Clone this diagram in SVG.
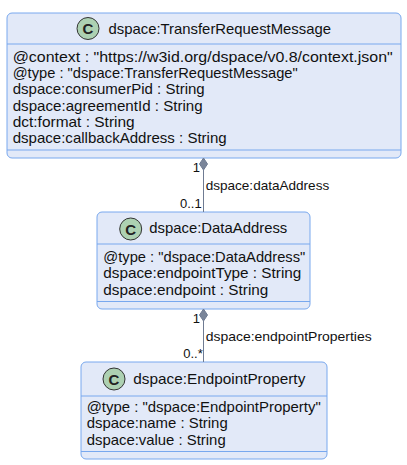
<svg xmlns="http://www.w3.org/2000/svg" width="407" height="465" viewBox="0 0 407 465">
<style>
.box{fill:#E2E9F8;stroke:#78A8EE;stroke-width:1}
.sep{stroke:#78A8EE;stroke-width:1}
.circ{fill:#ADD1B2;stroke:#333;stroke-width:1}
.cl{font-family:"Liberation Sans",Arial,sans-serif;font-size:15px;font-weight:bold;fill:#222;text-anchor:middle}
.t{font-family:"Liberation Sans",Arial,sans-serif;font-size:15px;fill:#111}
.a{font-family:"Liberation Sans",Arial,sans-serif;font-size:15px;fill:#111}
.lbl{font-family:"Liberation Sans",Arial,sans-serif;font-size:13px;fill:#111}
.ln{stroke:#6F7B92;stroke-width:1;fill:none}
.dia{fill:#7A8599;stroke:#6F7B92;stroke-width:1}
</style>
<g id="node-TransferRequestMessage">
<rect class="box" x="7" y="13" width="394" height="145" rx="5"/>
<line class="sep" x1="7" y1="44" x2="401" y2="44"/>
<line class="sep" x1="7" y1="150" x2="401" y2="150"/>
<circle class="circ" cx="88" cy="28.5" r="11"/>
<text class="cl" x="88" y="34">C</text>
<text class="t" x="108.5" y="33.5" textLength="222.5" lengthAdjust="spacingAndGlyphs">dspace:TransferRequestMessage</text>
<text class="a" x="12.7" y="62" textLength="380" lengthAdjust="spacingAndGlyphs">@context : "https://w3id.org/dspace/v0.8/context.json"</text>
<text class="a" x="12.7" y="78.2" textLength="285" lengthAdjust="spacingAndGlyphs">@type : "dspace:TransferRequestMessage"</text>
<text class="a" x="12.7" y="94.4" textLength="192" lengthAdjust="spacingAndGlyphs">dspace:consumerPid : String</text>
<text class="a" x="12.7" y="110.6" textLength="190" lengthAdjust="spacingAndGlyphs">dspace:agreementId : String</text>
<text class="a" x="12.7" y="126.8" textLength="122" lengthAdjust="spacingAndGlyphs">dct:format : String</text>
<text class="a" x="12.7" y="143" textLength="214" lengthAdjust="spacingAndGlyphs">dspace:callbackAddress : String</text>
</g>
<g id="node-DataAddress">
<rect class="box" x="97" y="212" width="213" height="97" rx="5"/>
<line class="sep" x1="97" y1="244" x2="310" y2="244"/>
<line class="sep" x1="97" y1="301.5" x2="310" y2="301.5"/>
<circle class="circ" cx="130.7" cy="229" r="11"/>
<text class="cl" x="130.7" y="234.5">C</text>
<text class="t" x="149.3" y="233" textLength="138" lengthAdjust="spacingAndGlyphs">dspace:DataAddress</text>
<text class="a" x="103.3" y="262" textLength="202" lengthAdjust="spacingAndGlyphs">@type : "dspace:DataAddress"</text>
<text class="a" x="103.3" y="278.3" textLength="198" lengthAdjust="spacingAndGlyphs">dspace:endpointType : String</text>
<text class="a" x="103.3" y="294.5" textLength="165" lengthAdjust="spacingAndGlyphs">dspace:endpoint : String</text>
</g>
<g id="node-EndpointProperty">
<rect class="box" x="81" y="362" width="246" height="97" rx="5"/>
<line class="sep" x1="81" y1="396" x2="327" y2="396"/>
<line class="sep" x1="81" y1="451.5" x2="327" y2="451.5"/>
<circle class="circ" cx="114" cy="379" r="11"/>
<text class="cl" x="114" y="384.5">C</text>
<text class="t" x="133.3" y="383.5" textLength="172" lengthAdjust="spacingAndGlyphs">dspace:EndpointProperty</text>
<text class="a" x="86.7" y="412" textLength="234" lengthAdjust="spacingAndGlyphs">@type : "dspace:EndpointProperty"</text>
<text class="a" x="86.7" y="428.3" textLength="141" lengthAdjust="spacingAndGlyphs">dspace:name : String</text>
<text class="a" x="86.7" y="444.5" textLength="139" lengthAdjust="spacingAndGlyphs">dspace:value : String</text>
</g>
<g id="connectors">
<line class="ln" x1="203.5" y1="170" x2="203.5" y2="212"/>
<polygon class="dia" points="203.5,158 207.5,164 203.5,170 199.5,164"/>
<text class="lbl" x="200" y="171.5" text-anchor="end">1</text>
<text class="lbl" x="205.7" y="190" textLength="123.5" lengthAdjust="spacingAndGlyphs">dspace:dataAddress</text>
<text class="lbl" x="201.7" y="208.3" text-anchor="end">0..1</text>
<line class="ln" x1="203.5" y1="321" x2="203.5" y2="362"/>
<polygon class="dia" points="203.5,309 207.5,315 203.5,321 199.5,315"/>
<text class="lbl" x="200" y="322.5" text-anchor="end">1</text>
<text class="lbl" x="205.7" y="341" textLength="166" lengthAdjust="spacingAndGlyphs">dspace:endpointProperties</text>
<text class="lbl" x="202.7" y="358.3" text-anchor="end">0..*</text>
</g>
</svg>
